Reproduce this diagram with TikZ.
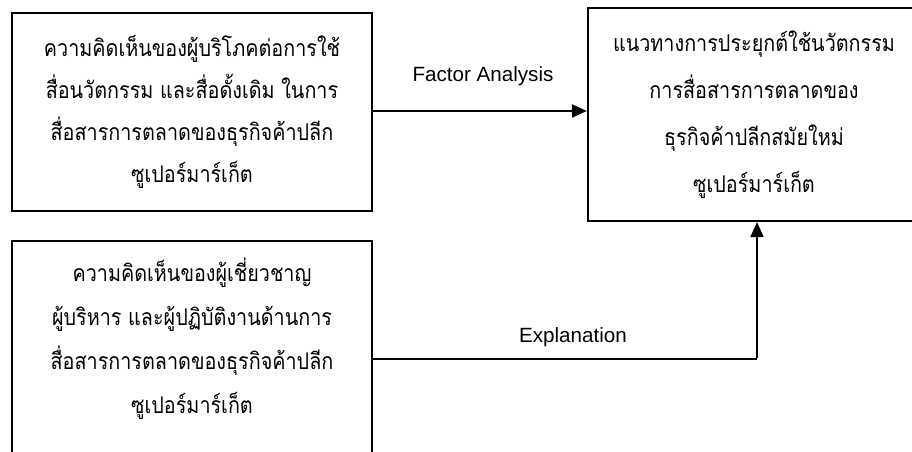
\documentclass[tikz,border=0pt]{standalone}
\usepackage{fontspec}
\setmainfont{Liberation Sans}
\newfontfamily\thaifont[Script=Thai, FakeStretch=0.86]{Loma}
\usetikzlibrary{arrows.meta}
\tikzset{
  thaibox/.style={draw, line width=2.2pt, align=center, inner sep=0pt,
    font=\thaifont\fontsize{23}{42}\selectfont},
  thaitext/.style={align=center, inner sep=0pt,
    font=\thaifont\fontsize{23}{44}\selectfont},
  edgelabel/.style={font=\fontsize{20.6}{24}\selectfont, inner sep=0pt},
  flow/.style={line width=2.2pt, -{Triangle[length=15pt,width=13pt]}},
}
\begin{document}
\begin{tikzpicture}[x=1pt, y=-1pt]
\useasboundingbox (0,0) rectangle (912,451);
\clip (0,0) rectangle (912,451);

% source box: consumer opinions
\node[thaibox, minimum width=360pt, minimum height=198pt] (consumer) at (192,112)
  {ความคิดเห็นของผู้บริโภคต่อการใช้\\สื่อนวัตกรรม และสื่อดั้งเดิม ในการ\\สื่อสารการตลาดของธุรกิจค้าปลีก\\ซูเปอร์มาร์เก็ต};

% target box: guidelines (runs past the right edge)
\node[thaibox, font=\thaifont\fontsize{23}{47}\selectfont,
      minimum width=332pt, minimum height=213pt] (guide) at (754,114.5)
  {แนวทางการประยุกต์ใช้นวัตกรรม\\การสื่อสารการตลาดของ\\ธุรกิจค้าปลีกสมัยใหม่\\ซูเปอร์มาร์เก็ต};

% source box: expert opinions (open at the bottom)
\node[thaitext, minimum width=360pt, minimum height=196pt] (expert) at (192,339)
  {ความคิดเห็นของผู้เชี่ยวชาญ\\ผู้บริหาร และผู้ปฏิบัติงานด้านการ\\สื่อสารการตลาดของธุรกิจค้าปลีก\\ซูเปอร์มาร์เก็ต};
\draw[line width=2.2pt] (expert.west |- 0,470) -- (expert.west |- 0,241)
  -- (expert.east |- 0,241) -- (expert.east |- 0,470);

% factor analysis link
\draw[flow] (consumer.east |- 0,111) -- (guide.west |- 0,111);
\node[edgelabel] (fa) at (483,76) {Factor Analysis};

% explanation link
\coordinate (turn) at (757,359);
\draw[line width=1.3pt] (expert.east |- turn) -- (turn);
\draw[line width=2pt, -{Triangle[length=15pt,width=13pt]}] ([yshift=0.65pt]turn) -- (turn |- guide.south);
\node[edgelabel] (ex) at (573,337) {Explanation};
\end{tikzpicture}
\end{document}
